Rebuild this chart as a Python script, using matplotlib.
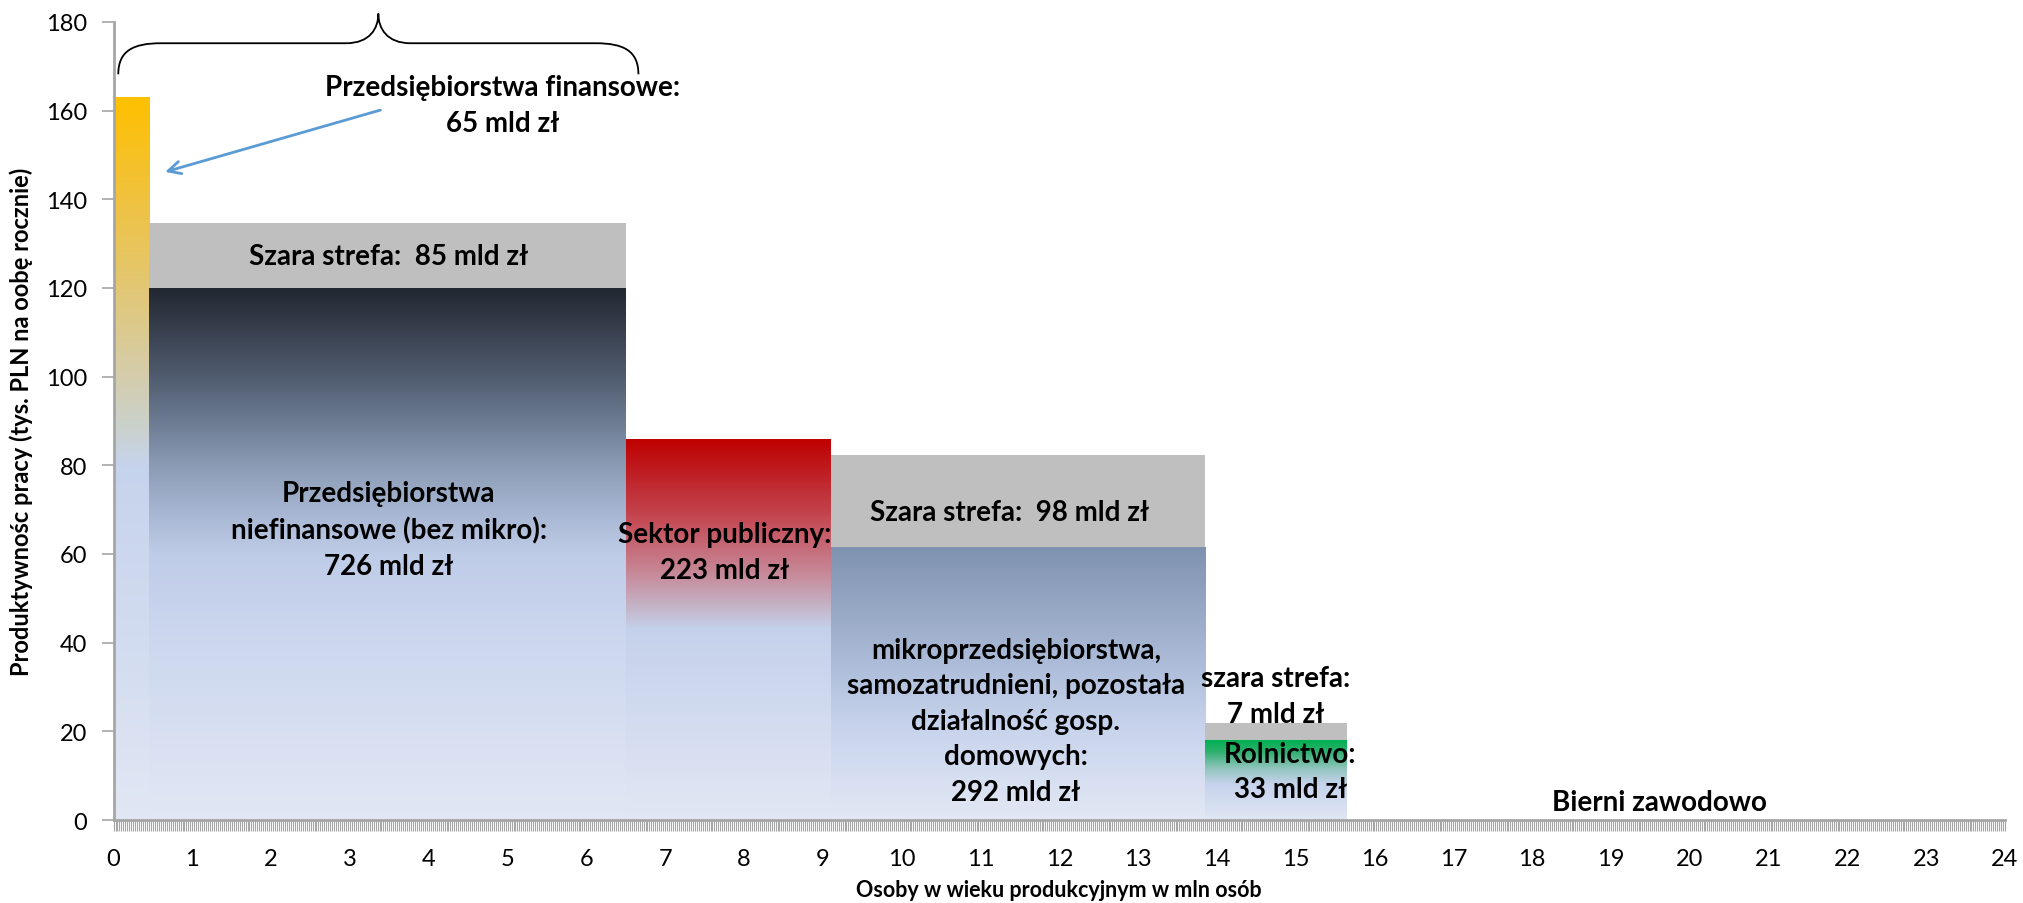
import matplotlib.pyplot as plt
import numpy as np
from matplotlib.colors import LinearSegmentedColormap
from matplotlib.path import Path
from matplotlib.patches import PathPatch
from matplotlib.ticker import MultipleLocator

plt.rcParams['font.family'] = ['Lato', 'DejaVu Sans']

# osoby w wieku produkcyjnym (mln) i produktywnosc (tys. PLN na osobe rocznie)
sektory = ['Przedsiębiorstwa finansowe', 'Przedsiębiorstwa niefinansowe (bez mikro)',
           'Sektor publiczny', 'Mikroprzedsiębiorstwa i gosp. domowe', 'Rolnictwo',
           'Bierni zawodowo']
osoby = [0.45, 6.05, 2.6, 4.75, 1.8, 8.35]
produktywnosc = [163, 120, 86, 61.5, 18, 0]
szara_strefa = [0, 14.6, 0, 20.8, 3.8, 0]

# gradienty (od dolu do gory slupka)
gradienty = [
    [(0, '#e1e7f4'), (0.25, '#d2dcf0'), (0.49, '#c6d3ec'), (0.55, '#cbd1c9'),
     (0.61, '#d4cdae'), (0.74, '#e2c773'), (0.86, '#f0c23f'), (1, '#ffc000')],
    [(0, '#e1e7f4'), (0.33, '#cdd8ef'), (0.5, '#bfcce8'), (0.58, '#a6b5d1'),
     (0.67, '#8a9ab3'), (0.75, '#6c7b92'), (0.83, '#515d70'), (1, '#222731')],
    [(0, '#e1e7f4'), (0.5, '#c5d1eb'), (0.55, '#c4b8cc'), (0.65, '#c78797'),
     (0.8, '#c4454f'), (0.9, '#be2228'), (1, '#c00000')],
    [(0, '#e2e8f4'), (0.35, '#c7d3ec'), (0.6, '#a9b9d6'), (1, '#7f92af')],
    [(0, '#e0e7f4'), (0.45, '#c6d3ec'), (0.65, '#90c4bc'), (0.85, '#30b070'), (1, '#00b050')],
    None,
]

fig = plt.figure(figsize=(20.24, 9.04), dpi=100)
ax = fig.add_axes([0.0561, 0.0918, 0.9345, 0.8828])

lewo = np.concatenate([[0], np.cumsum(osoby)[:-1]])
slupki = ax.bar(lewo, produktywnosc, width=osoby, align='edge', color='none',
                edgecolor='none', zorder=1)
for s, g in zip(slupki, gradienty):
    if g is None or s.get_height() == 0:
        continue
    cmap = LinearSegmentedColormap.from_list('g', g)
    x0, w, h = s.get_x(), s.get_width(), s.get_height()
    im = ax.imshow(np.linspace(0, 1, 256).reshape(-1, 1), cmap=cmap, origin='lower',
                   extent=[x0, x0 + w, 0, h], aspect='auto', interpolation='bilinear',
                   zorder=1)
    im.set_clip_path(s)

ax.bar(lewo, szara_strefa, width=osoby, bottom=produktywnosc, align='edge',
       color='#bfbfbf', edgecolor='none', zorder=1)

ax.set_xlim(0, 24)
ax.set_ylim(0, 180)
ax.set_aspect('auto')
ax.set_xticks(range(25))
ax.xaxis.set_minor_locator(MultipleLocator(0.025))
ax.set_yticks(range(0, 181, 20))
ax.tick_params(axis='both', which='both', direction='out', color='#a6a6a6',
               labelsize=17, width=1.2)
ax.tick_params(axis='x', which='both', length=8, pad=12, width=0.8)
ax.tick_params(axis='y', length=9, pad=10)
for sp in ['top', 'right']:
    ax.spines[sp].set_visible(False)
for sp in ['left', 'bottom']:
    ax.spines[sp].set_color('#a6a6a6')
    ax.spines[sp].set_linewidth(2)

ax.set_xlabel('Osoby w wieku produkcyjnym w mln osób', fontsize=15.5, fontweight='bold',
              labelpad=7)
ax.set_ylabel('Produktywnośc pracy (tys. PLN na oobę rocznie)', fontsize=17,
              fontweight='bold', labelpad=9)

kw = dict(ha='center', va='center', fontsize=20, fontweight='bold', color='black',
          zorder=5, linespacing=1.45)
ax.text(3.49, 127.3, 'Szara strefa:  85 mld zł', **kw)
ax.text(3.49, 65.5, 'Przedsiębiorstwa\nniefinansowe (bez mikro):\n726 mld zł', **kw)
ax.text(7.75, 60.5, 'Sektor publiczny:\n223 mld zł', **kw)
ax.text(11.37, 69.4, 'Szara strefa:  98 mld zł', **kw)
ax.text(11.45, 22.4, 'mikroprzedsiębiorstwa,\nsamozatrudnieni, pozostała\n'
        'działalność gosp.\ndomowych:\n292 mld zł', **kw)
ax.text(14.75, 28.0, 'szara strefa:\n7 mld zł', **kw)
ax.text(14.93, 10.9, 'Rolnictwo:\n33 mld zł', **kw)
ax.text(19.62, 4.0, 'Bierni zawodowo', **kw)
ax.text(4.94, 161.3, 'Przedsiębiorstwa finansowe:\n65 mld zł', **kw)

ax.annotate('', xy=(0.62, 146.0), xytext=(3.42, 160.3),
            arrowprops=dict(arrowstyle='->,head_length=0.9,head_width=0.45',
                            color='#5b9bd5', lw=2), zorder=4)

# klamra nad sektorem przedsiebiorstw
P = Path
klamra = Path([(0.06, 168.2), (0.06, 173.5), (0.25, 175.2), (0.6, 175.2),
               (2.95, 175.2),
               (3.25, 175.2), (3.36, 178.5), (3.36, 181.9),
               (3.36, 178.5), (3.47, 175.2), (3.77, 175.2),
               (6.12, 175.2),
               (6.47, 175.2), (6.66, 173.5), (6.66, 168.2)],
              [P.MOVETO, P.CURVE4, P.CURVE4, P.CURVE4, P.LINETO,
               P.CURVE4, P.CURVE4, P.CURVE4,
               P.CURVE4, P.CURVE4, P.CURVE4, P.LINETO,
               P.CURVE4, P.CURVE4, P.CURVE4])
ax.add_patch(PathPatch(klamra, facecolor='none', edgecolor='black', lw=1.3,
                       clip_on=False, zorder=4))

fig.savefig('out.png', dpi=100)
